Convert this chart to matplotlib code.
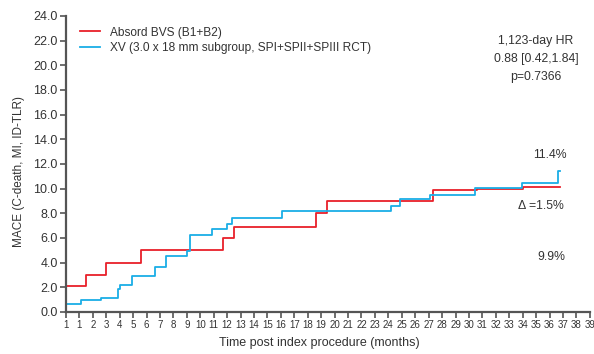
import matplotlib
matplotlib.use("Agg")
import matplotlib.pyplot as plt

plt.rcParams["font.family"] = ["Liberation Sans", "DejaVu Sans"]

# Kaplan-Meier style cumulative event curves (months, %)
red_t = [0, 1.46, 2.98, 5.58, 11.66, 12.5, 18.6, 19.4, 27.3, 30.6, 34.0, 36.8]
red_y = [2.1, 3.0, 4.0, 5.0, 6.0, 6.9, 8.05, 9.0, 9.9, 10.0, 10.1, 10.1]

blue_t = [0, 1.12, 2.6, 3.85, 4.02, 4.91, 6.6, 7.44, 8.98, 9.2, 10.84, 12.0,
          12.38, 16.05, 24.18, 24.9, 27.08, 30.48, 33.98, 36.66, 36.8]
blue_y = [0.6, 1.0, 1.1, 1.85, 2.2, 2.9, 3.65, 4.5, 4.9, 6.25, 6.7, 7.1,
          7.6, 8.15, 8.6, 9.15, 9.5, 10.05, 10.45, 11.45, 11.45]

red_label = "Absord BVS (B1+B2)"
blue_label = "XV (3.0 x 18 mm subgroup, SPI+SPII+SPIII RCT)"

x_ticks = list(range(0, 40))
x_tick_labels = ["1"] + [str(i) for i in range(1, 40)]
y_ticks = [0, 2, 4, 6, 8, 10, 12, 14, 16, 18, 20, 22, 24]

RED = "#e8202a"
BLUE = "#1aaee6"
GREY = "#555555"
TXT = "#333333"

fig = plt.figure(figsize=(5.94, 3.54), dpi=100)
ax = fig.add_axes([0.111, 0.119, 0.882, 0.836])

ax.step(red_t, red_y, where="post", color=RED, lw=1.3, label=red_label)
ax.step(blue_t, blue_y, where="post", color=BLUE, lw=1.3, label=blue_label)

ax.set_xlim(0, 39)
ax.set_ylim(0, 24)
ax.set_xticks(x_ticks)
ax.set_xticklabels(x_tick_labels, fontsize=7, color=TXT)
ax.set_yticks(y_ticks)
ax.set_yticklabels([f"{v:.1f}" for v in y_ticks], fontsize=9, color=TXT)
ax.tick_params(axis="both", color=GREY, width=1.2, length=4, pad=2)

for s in ["top", "right"]:
    ax.spines[s].set_visible(False)
for s in ["left", "bottom"]:
    ax.spines[s].set_color(GREY)
    ax.spines[s].set_linewidth(1.6)

ax.set_xlabel("Time post index procedure (months)", fontsize=9, color=TXT)
ax.xaxis.set_label_coords(0.484, -0.085)
ax.set_ylabel("MACE (C-death, MI, ID-TLR)", fontsize=8.5, color=TXT)
ax.yaxis.set_label_coords(-0.078, 0.473)

ax.legend(loc="upper left", bbox_to_anchor=(0.006, 1.0), frameon=False,
          fontsize=8.6, handlelength=1.7, handletextpad=0.8, labelspacing=0.3,
          labelcolor=TXT)

ax.text(35.0, 20.5, "1,123-day HR\n0.88 [0.42,1.84]\np=0.7366", ha="center",
        va="center", fontsize=8.8, color=TXT, linespacing=1.65)
ax.text(36.0, 12.7, "11.4%", ha="center", va="center", fontsize=8.8, color=TXT)
ax.text(37.1, 8.55, "\u0394 =1.5%", ha="right", va="center", fontsize=8.8, color=TXT)
ax.text(36.1, 4.45, "9.9%", ha="center", va="center", fontsize=8.8, color=TXT)

fig.savefig("out.png", dpi=100)
